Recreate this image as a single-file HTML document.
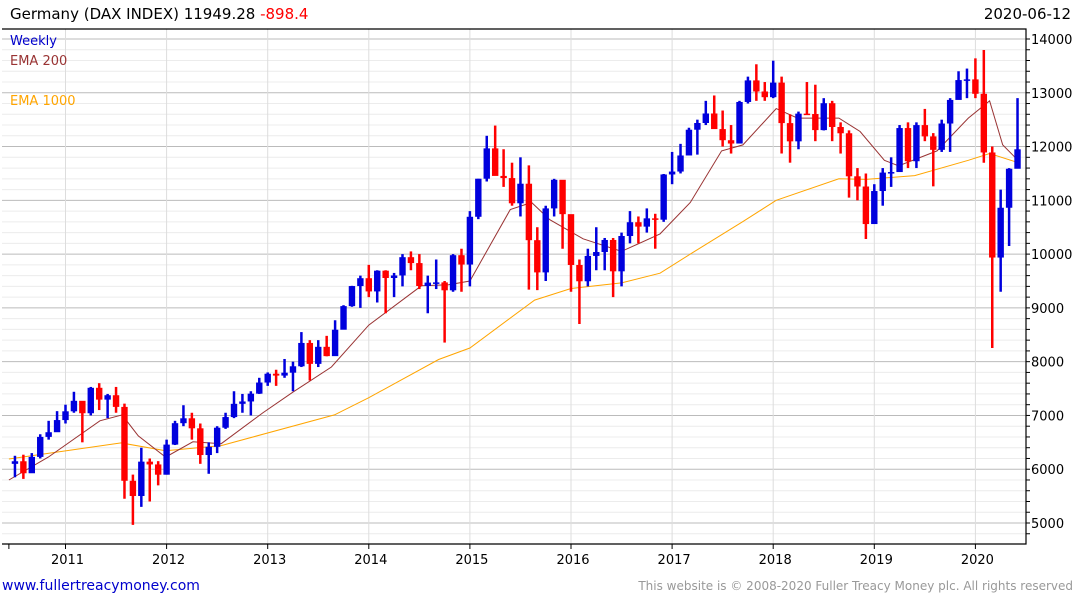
<!DOCTYPE html>
<html><head><meta charset="utf-8"><style>
body{margin:0;background:#fff;width:1075px;height:600px;overflow:hidden;font-family:"DejaVu Sans","Liberation Sans",sans-serif}
</style></head><body>
<svg id="chart" width="1075" height="600" xmlns="http://www.w3.org/2000/svg" font-family="DejaVu Sans, Liberation Sans, sans-serif">
<text x="10" y="19" font-size="15" fill="#000">Germany (DAX INDEX) 11949.28 <tspan fill="#ff0000">-898.4</tspan></text>
<text x="1071" y="19" font-size="15" text-anchor="end" fill="#000">2020-06-12</text>
<g id="grid"></g><g id="lines"></g><g id="bars"></g><g id="axes"></g>
<text x="10" y="45" font-size="13" fill="#0000cc">Weekly</text>
<text x="10" y="65" font-size="13" fill="#993333">EMA 200</text>
<text x="10" y="105" font-size="13" fill="#ffa500">EMA 1000</text>
<text x="2" y="590" font-size="14" fill="#0000cc">www.fullertreacymoney.com</text>
<text x="1073" y="590" font-size="12" text-anchor="end" fill="#999">This website is © 2008-2020 Fuller Treacy Money plc. All rights reserved</text>
</svg>
<script>
const startOpen = 6100;
const closes = [6148,5925,6229,6601,6688,6914,
7077,7272,7041,7514,7294,7376,7159,5785,5502,6141,6089,5898,
6458,6856,6947,6761,6264,6416,6772,6970,7216,7260,7405,7612,
7776,7741,7795,7914,8348,7959,8276,8103,8594,9033,9406,9552,
9306,9692,9556,9603,9943,9833,9407,9470,9474,9327,9980,9806,
10694,11402,11966,11454,11414,10945,11309,10259,9660,10850,11382,10743,
9798,9495,9966,10039,10263,9680,10337,10593,10511,10665,10640,11481,
11535,11834,12313,12438,12615,12325,12118,12056,12829,13230,13024,12918,
13189,12436,12097,12612,12605,12306,12806,12364,12247,11447,11257,10559,
11173,11516,11526,12344,11727,12399,12189,11939,12428,12867,13236,13249,
12981,11890,9936,10862,11587,11949];
const highs = [6250,6270,6300,6650,6900,7080,
7200,7440,7250,7530,7600,7400,7530,7220,5900,6400,6200,6150,
6550,6900,7190,7050,6850,6500,6800,7050,7450,7400,7450,7700,
7800,7850,8050,8000,8550,8400,8400,8480,8770,9050,9410,9600,
9800,9700,9700,9650,10000,10050,10000,9600,9900,9500,10000,10100,
10800,11400,12200,12390,11950,11700,11800,11650,10500,10900,11400,11300,
10500,9900,10100,10500,10300,10300,10400,10800,10700,10850,10750,11490,
11900,12050,12350,12500,12850,12950,12670,12400,12850,13300,13530,13200,
13597,13300,12600,12650,13200,13150,12900,12850,12450,12300,11600,11500,
11300,11600,11800,12400,12450,12450,12700,12250,12500,12900,13400,13450,
13640,13795,12000,11200,11600,12900];
const lows = [5850,5820,5950,6200,6550,6700,
6850,7050,6500,7000,7100,6950,7050,5450,4965,5300,5400,5700,
5900,6450,6800,6550,6100,5915,6300,6750,6950,7050,7000,7400,
7550,7550,7700,7450,7900,7650,7900,8100,8200,8600,9020,9000,
9200,9100,8900,9200,9400,9700,9350,8900,9350,8355,9300,9300,
9400,10650,11350,11500,11250,10900,10700,9340,9330,9500,10700,10100,
9300,8700,9400,9700,9700,9200,9400,10200,10200,10400,10100,10600,
11300,11500,11900,11850,12400,12400,12000,11870,12100,12800,12850,12850,
12900,11870,11700,11950,12600,12100,12300,12100,11870,11050,11000,10280,
10600,10900,11250,11600,11600,11600,12100,11260,11900,11900,12900,12900,
12900,11700,8255,9300,10150,11700];
const ema200Dates = [2010.44,2010.83,2011.34,2011.56,2011.72,2011.99,2012.26,2012.54,2012.95,2013.25,2013.63,2014.0,2014.52,2014.79,2015.0,2015.40,2015.61,2015.79,2016.12,2016.50,2016.88,2017.18,2017.49,2017.70,2018.03,2018.24,2018.65,2018.86,2019.10,2019.24,2019.62,2019.93,2020.14,2020.27,2020.44];
const ema200Values = [5800,6225,6900,7010,6620,6225,6510,6475,7045,7435,7900,8680,9410,9430,9500,10830,10960,10640,10285,10050,10375,10960,11920,12030,12705,12530,12530,12280,11745,11640,11920,12530,12850,12030,11710];
const ema1000Dates = [2010.44,2011.55,2011.99,2012.54,2013.66,2014.0,2014.69,2015.0,2015.64,2016.0,2016.5,2016.88,2017.18,2017.70,2018.03,2018.65,2018.92,2019.40,2019.93,2020.14,2020.44];
const ema1000Values = [6190,6490,6345,6440,7010,7330,8040,8255,9145,9360,9465,9645,10000,10605,11000,11400,11390,11460,11745,11870,11690];
const yTicks = [5000,6000,7000,8000,9000,10000,11000,12000,13000,14000];
const xTickYears = [2011,2012,2013,2014,2015,2016,2017,2018,2019,2020];

const NS="http://www.w3.org/2000/svg";
const L=2,R=1026,T=29,B=544;
function yS(v){return 523-(v-5000)*(484/9000);}
function xS(yr){return 65.5+(yr-2011)*101.1;}
function mk(tag,attrs,parent){const e=document.createElementNS(NS,tag);for(const k in attrs)e.setAttribute(k,attrs[k]);parent.appendChild(e);return e;}
const grid=document.getElementById('grid'),axes=document.getElementById('axes'),bars=document.getElementById('bars'),lines=document.getElementById('lines');
for(let v=4800;v<=14200;v+=200){const y=yS(v);if(y<T||y>B)continue;
 const major=v%1000===0;
 const g=mk('line',{x1:L,x2:R,y1:y,y2:y,stroke:major?'#bbbbbb':'#ececec','stroke-width':1},grid);
 
 
 const t=mk('line',{x1:R,x2:R+4,y1:y,y2:y,stroke:'#000'},axes);
 
 
}
yTicks.forEach(v=>{const t=mk('text',{x:1031,y:yS(v)+5,'font-size':13,fill:'#000'},axes);t.textContent=v;
 
 });
xTickYears.forEach(yr=>{const x=xS(yr);
 const g=mk('line',{x1:x,x2:x,y1:T,y2:B,stroke:'#dddddd'},grid);
 
 
 const tk=mk('line',{x1:x,x2:x,y1:B,y2:B+5,stroke:'#000'},axes);
 
 
 const t=mk('text',{x:x+2,y:564,'font-size':13,'text-anchor':'middle',fill:'#000'},axes);t.textContent=yr;
 
 });
const fr=mk('path',{d:`M${L},${T}H${R}V${B}H${L}`,fill:'none',stroke:'#000','stroke-width':1.2},axes);


const x0=mk('line',{x1:xS(2010.44),x2:xS(2010.44),y1:B,y2:B+5,stroke:'#000'},axes);



function drawLine(ds,vs,color,name){const d=ds.map((t,i)=>(i?'L':'M')+xS(t).toFixed(1)+','+yS(vs[i]).toFixed(1)).join('');
 const p=mk('path',{d:d,fill:'none',stroke:color,'stroke-width':1},lines);
 
 }
drawLine(ema1000Dates,ema1000Values,'#ffa500','ema-1000-line');
drawLine(ema200Dates,ema200Values,'#993333','ema-200-line');

let prev=startOpen;
closes.forEach((c,i)=>{const o=prev;prev=c;const x=xS(2010.5+i/12);
 const col=c>=o?'#0000dd':'#ff0000';
 const w=mk('line',{x1:x,x2:x,y1:yS(highs[i]),y2:yS(lows[i]),stroke:col,'stroke-width':2.5},bars);
 
 
 const top=yS(Math.max(o,c)),bot=yS(Math.min(o,c));
 const r=mk('rect',{x:x-3.2,y:top,width:6.4,height:Math.max(1.5,bot-top),fill:col},bars);
 
 
});
</script>
</body></html>
